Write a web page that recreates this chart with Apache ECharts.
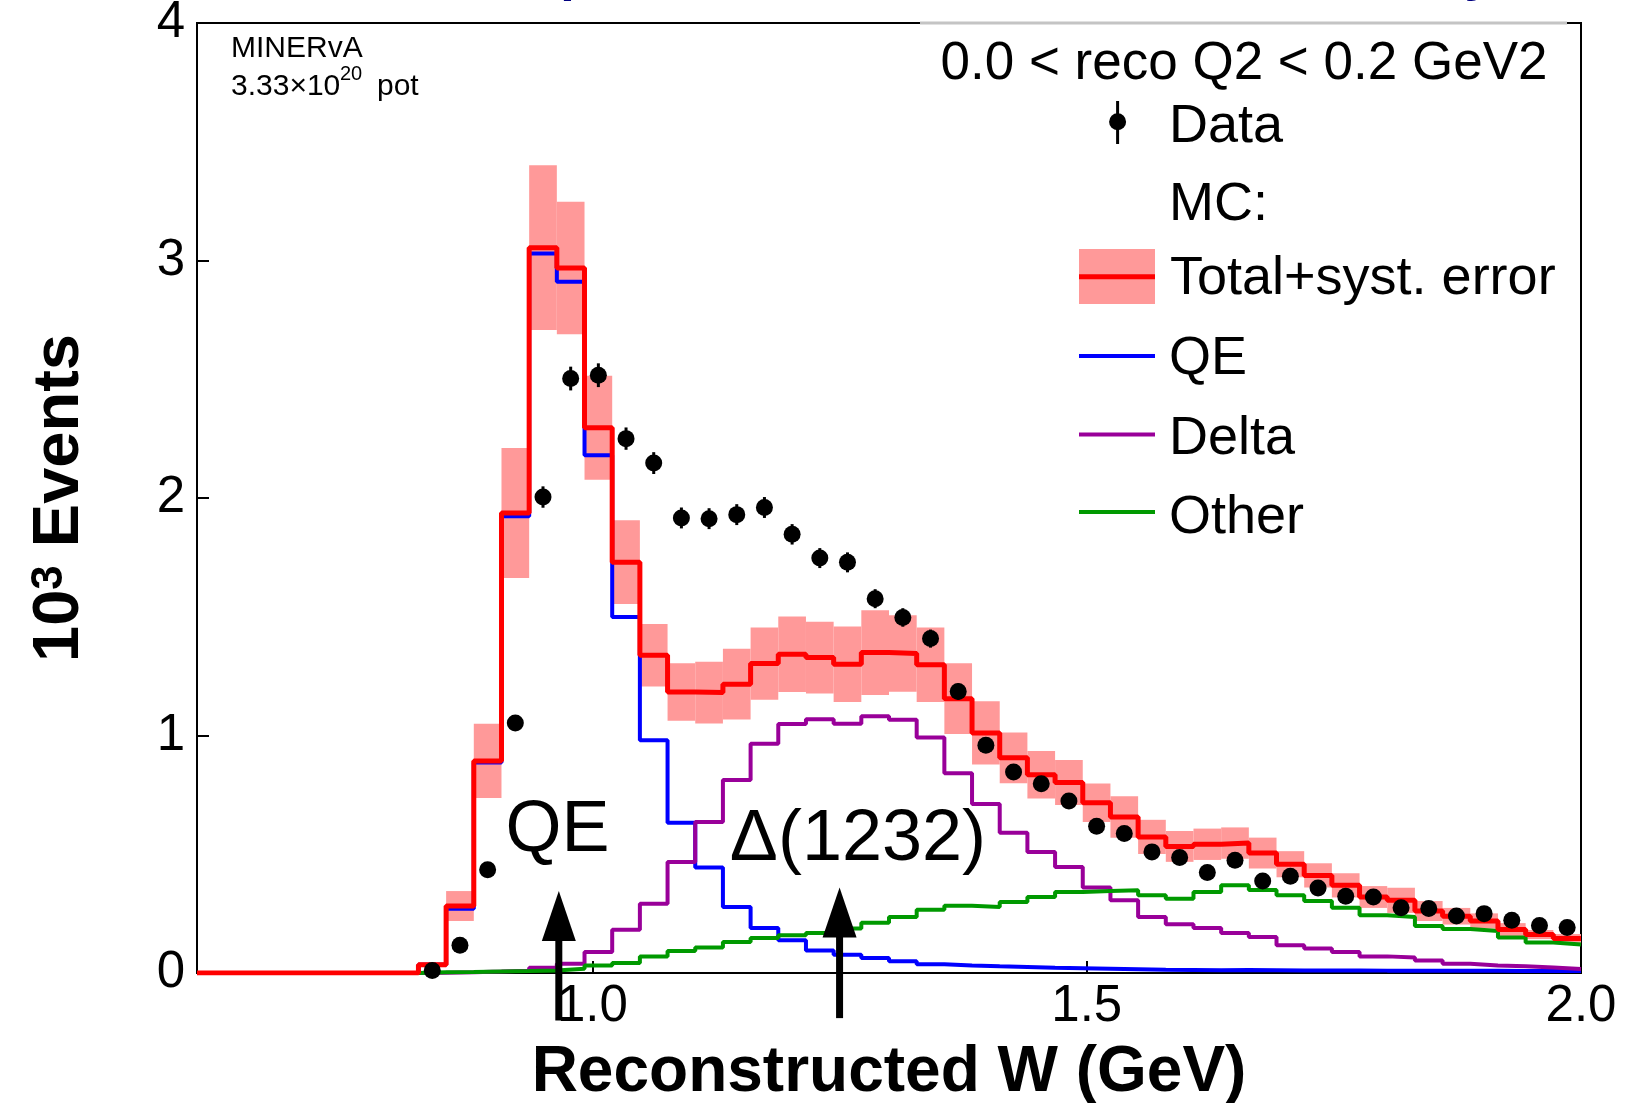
<!DOCTYPE html>
<html>
<head>
<meta charset="utf-8">
<title>Reconstructed W</title>
<script src="https://cdn.jsdelivr.net/npm/echarts@6/dist/echarts.min.js"></script>
<style>
html, body { margin: 0; padding: 0; background: #fff; }
#main { width: 1626px; height: 1103px; }
</style>
</head>
<body>
<div id="main"></div>
<script>
// binning: 50 bins of 0.028 GeV between 0.6 and 2.0
const wMin = 0.6, wMax = 2.0, binWidth = 0.028, nBins = 50;
const binLow = Array.from({ length: nBins }, (_, i) => +(wMin + i * binWidth).toFixed(3));
const binCenter = binLow.map(x => +(x + binWidth / 2).toFixed(3));
const xTickValues = [1.0, 1.5, 2.0];

// 10^3 events per bin
const dataVals = [null, null, null, null, null, null, null, null,
  0.011, 0.117, 0.435, 1.053, 2.004, 2.503, 2.517, 2.25, 2.147, 1.916, 1.913, 1.93,
  1.96, 1.847, 1.747, 1.729, 1.576, 1.497, 1.408, 1.185, 0.959, 0.846,
  0.797, 0.724, 0.618, 0.587, 0.51, 0.486, 0.423, 0.475, 0.387, 0.407,
  0.358, 0.323, 0.32, 0.275, 0.272, 0.24, 0.25, 0.222, 0.2, 0.192];
const dataErr = [null, null, null, null, null, null, null, null,
  0.004, 0.011, 0.021, 0.032, 0.045, 0.05, 0.05, 0.047, 0.046, 0.044, 0.044, 0.044,
  0.044, 0.043, 0.042, 0.042, 0.04, 0.039, 0.038, 0.034, 0.031, 0.029,
  0.028, 0.027, 0.025, 0.024, 0.023, 0.022, 0.021, 0.022, 0.02, 0.02,
  0.019, 0.018, 0.018, 0.017, 0.016, 0.015, 0.016, 0.015, 0.014, 0.014];
const totalMC = [0, 0, 0, 0, 0, 0, 0, 0,
  0.035, 0.282, 0.893, 1.937, 3.054, 2.968, 2.296, 1.73, 1.338, 1.183, 1.181, 1.216,
  1.303, 1.342, 1.328, 1.30, 1.349, 1.345, 1.298, 1.155, 1.011, 0.906,
  0.835, 0.802, 0.717, 0.657, 0.573, 0.533, 0.542, 0.547, 0.505, 0.458,
  0.411, 0.369, 0.32, 0.306, 0.261, 0.239, 0.219, 0.183, 0.162, 0.145];
const totalErr = [0, 0, 0, 0, 0, 0, 0, 0,
  0.01, 0.063, 0.156, 0.274, 0.347, 0.279, 0.219, 0.176, 0.132, 0.121, 0.13, 0.149,
  0.152, 0.159, 0.151, 0.159, 0.178, 0.161, 0.157, 0.149, 0.133, 0.107,
  0.10, 0.095, 0.081, 0.087, 0.072, 0.065, 0.066, 0.066, 0.065, 0.055,
  0.051, 0.051, 0.046, 0.053, 0.042, 0.035, 0.032, 0.027, 0.019, 0.019];
const qeMC = [0, 0, 0, 0, 0, 0, 0, 0,
  0.035, 0.271, 0.886, 1.923, 3.029, 2.911, 2.18, 1.499, 0.98, 0.633, 0.444, 0.278,
  0.189, 0.138, 0.095, 0.077, 0.063, 0.049, 0.037, 0.032, 0.028, 0.025,
  0.022, 0.02, 0.018, 0.016, 0.014, 0.013, 0.012, 0.013, 0.012, 0.011,
  0.011, 0.011, 0.01, 0.01, 0.01, 0.009, 0.009, 0.008, 0.008, 0.008];
const deltaMC = [0, 0, 0, 0, 0, 0, 0, 0,
  0.001, 0.003, 0.006, 0.01, 0.022, 0.039, 0.088, 0.182, 0.292, 0.467, 0.636, 0.813,
  0.965, 1.048, 1.068, 1.05, 1.081, 1.066, 0.992, 0.841, 0.712, 0.591,
  0.51, 0.446, 0.36, 0.306, 0.236, 0.205, 0.19, 0.168, 0.152, 0.117,
  0.103, 0.088, 0.07, 0.065, 0.053, 0.039, 0.032, 0.028, 0.023, 0.017];
const otherMC = [0, 0, 0, 0, 0, 0, 0, 0,
  0.003, 0.004, 0.006, 0.008, 0.011, 0.018, 0.032, 0.042, 0.07, 0.093, 0.107, 0.131,
  0.147, 0.159, 0.168, 0.187, 0.212, 0.236, 0.266, 0.283, 0.278, 0.299,
  0.32, 0.341, 0.345, 0.348, 0.327, 0.313, 0.341, 0.369, 0.35, 0.327,
  0.303, 0.275, 0.243, 0.236, 0.198, 0.185, 0.177, 0.149, 0.128, 0.12];

// arrows and labels marking the QE and Delta peaks (W in GeV, height in 10^3 events)
const arrows = [{ w: 0.966, from: -0.2, to: 0.345 }, { w: 1.25, from: -0.19, to: 0.36 }];
const peakLabels = [{ w: 0.912, y: 0.598, text: 'QE' }, { w: 1.139, y: 0.558, text: 'Δ(1232)' }];

const FONT = "'Liberation Sans', Arial, Helvetica, sans-serif";

// histogram outline: one point per low edge plus the last upper edge
function stepPoints(vals) {
  const pts = vals.map((v, i) => [binLow[i], v]);
  pts.push([wMax, vals[vals.length - 1]]);
  return pts;
}

function histLine(name, vals, color, width, z) {
  return {
    name: name, type: 'line', step: 'end', data: stepPoints(vals),
    symbol: 'none', z: z, silent: true,
    lineStyle: { color: color, width: width }
  };
}

const chart = echarts.init(document.getElementById('main'));

const option = {
  animation: false,
  grid: { left: 197, right: 45, top: 23, bottom: 130, outerBoundsMode: 'none', show: true, borderColor: '#000', borderWidth: 2 },
  xAxis: {
    type: 'value', min: wMin, max: wMax,
    name: 'Reconstructed W (GeV)', nameLocation: 'middle', nameGap: 68,
    nameTextStyle: { fontSize: 64, fontWeight: 'bold', color: '#000', fontFamily: FONT },
    axisLine: { lineStyle: { color: '#000', width: 2 } },
    axisTick: { inside: true, length: 12, customValues: xTickValues, lineStyle: { color: '#000', width: 2 } },
    axisLabel: { customValues: xTickValues, formatter: v => v.toFixed(1), fontSize: 51, margin: 8, color: '#000', fontFamily: FONT },
    splitLine: { show: false }
  },
  yAxis: {
    type: 'value', min: 0, max: 4, interval: 1,
    name: '{n|10}{s|3}{n| Events}', nameLocation: 'middle', nameRotate: 90, nameGap: 104,
    nameTextStyle: {
      color: '#000',
      rich: {
        n: { fontSize: 65, fontWeight: 'bold', fontFamily: FONT, color: '#000' },
        s: { fontSize: 44, fontWeight: 'bold', fontFamily: FONT, color: '#000', verticalAlign: 'top' }
      }
    },
    axisLine: { lineStyle: { color: '#000', width: 2 } },
    axisTick: { inside: true, length: 12, lineStyle: { color: '#000', width: 2 } },
    axisLabel: { fontSize: 51, margin: 12, color: '#000', fontFamily: FONT },
    splitLine: { show: false }
  },
  graphic: [
    // title, mostly above the page
    { type: 'text', x: 462, y: -24.5, z: 100, style: { text: 'W Spectrum and Reconstructed Q2 Study', font: 'bold 52px ' + FONT, fill: '#000080', verticalAlign: 'middle' } },
    // legend box covers the top frame with a light edge
    { type: 'line', z: 100, shape: { x1: 920, y1: 23, x2: 1567, y2: 23 }, style: { stroke: '#c4c4c4', lineWidth: 3 } },
    { type: 'text', x: 231, y: 49, z: 100, style: { text: 'MINERvA', font: '30px ' + FONT, fill: '#000', verticalAlign: 'middle' } },
    { type: 'text', x: 231, y: 87, z: 100, style: { text: '3.33×10', font: '30px ' + FONT, fill: '#000', verticalAlign: 'middle' } },
    { type: 'text', x: 340, y: 74, z: 100, style: { text: '20', font: '20px ' + FONT, fill: '#000', verticalAlign: 'middle' } },
    { type: 'text', x: 377, y: 87, z: 100, style: { text: 'pot', font: '30px ' + FONT, fill: '#000', verticalAlign: 'middle' } },
    { type: 'text', x: 1244, y: 64, z: 100, style: { text: '0.0 < reco Q2 < 0.2 GeV2', font: '53px ' + FONT, fill: '#000', align: 'center', verticalAlign: 'middle' } },
    { type: 'line', z: 100, shape: { x1: 1117.6, y1: 101, x2: 1117.6, y2: 144 }, style: { stroke: '#000', lineWidth: 3 } },
    { type: 'circle', z: 100, shape: { cx: 1117.6, cy: 121.7, r: 8.5 }, style: { fill: '#000' } },
    { type: 'text', x: 1169, y: 127, z: 100, style: { text: 'Data', font: '54px ' + FONT, fill: '#000', verticalAlign: 'middle' } },
    { type: 'text', x: 1169, y: 205, z: 100, style: { text: 'MC:', font: '54px ' + FONT, fill: '#000', verticalAlign: 'middle' } },
    { type: 'rect', z: 100, shape: { x: 1079, y: 249, width: 76, height: 55 }, style: { fill: '#ff9999' } },
    { type: 'line', z: 101, shape: { x1: 1079, y1: 276.7, x2: 1155, y2: 276.7 }, style: { stroke: '#ff0000', lineWidth: 5 } },
    { type: 'text', x: 1170, y: 279, z: 100, style: { text: 'Total+syst. error', font: '54px ' + FONT, fill: '#000', verticalAlign: 'middle' } },
    { type: 'line', z: 100, shape: { x1: 1079, y1: 356, x2: 1155, y2: 356 }, style: { stroke: '#0000ff', lineWidth: 4 } },
    { type: 'text', x: 1169, y: 359, z: 100, style: { text: 'QE', font: '54px ' + FONT, fill: '#000', verticalAlign: 'middle' } },
    { type: 'line', z: 100, shape: { x1: 1079, y1: 434.5, x2: 1155, y2: 434.5 }, style: { stroke: '#990099', lineWidth: 4 } },
    { type: 'text', x: 1169, y: 439, z: 100, style: { text: 'Delta', font: '54px ' + FONT, fill: '#000', verticalAlign: 'middle' } },
    { type: 'line', z: 100, shape: { x1: 1079, y1: 512, x2: 1155, y2: 512 }, style: { stroke: '#009900', lineWidth: 4 } },
    { type: 'text', x: 1169, y: 518, z: 100, style: { text: 'Other', font: '54px ' + FONT, fill: '#000', verticalAlign: 'middle' } }
  ],
  series: [
    {
      // systematic error band around the total
      name: 'Total+syst. error band', type: 'custom', z: 1, silent: true,
      data: totalMC.map((v, i) => [binLow[i], binLow[i] + binWidth, v - totalErr[i], v + totalErr[i]]),
      encode: { x: [0, 1], y: [2, 3] },
      renderItem: function (params, api) {
        if (api.value(3) - api.value(2) <= 0) return null;
        const p0 = api.coord([api.value(0), api.value(3)]);
        const p1 = api.coord([api.value(1), api.value(2)]);
        return { type: 'rect', shape: { x: p0[0], y: p0[1], width: p1[0] - p0[0], height: p1[1] - p0[1] }, style: { fill: '#ff9999' } };
      }
    },
    histLine('QE', qeMC, '#0000ff', 4, 2),
    histLine('Delta', deltaMC, '#990099', 4, 2),
    histLine('Other', otherMC, '#009900', 4, 2),
    histLine('Total', totalMC, '#ff0000', 5, 3),
    {
      name: 'Data error', type: 'custom', z: 4, silent: true,
      data: dataVals.map((v, i) => v === null ? null : [binCenter[i], v - dataErr[i], v + dataErr[i]]).filter(d => d),
      encode: { x: 0, y: [1, 2] },
      renderItem: function (params, api) {
        const a = api.coord([api.value(0), api.value(1)]);
        const b = api.coord([api.value(0), api.value(2)]);
        return { type: 'line', shape: { x1: a[0], y1: a[1], x2: b[0], y2: b[1] }, style: { stroke: '#000', lineWidth: 3 } };
      }
    },
    {
      name: 'Data', type: 'scatter', z: 5, silent: true,
      data: dataVals.map((v, i) => v === null ? null : [binCenter[i], v]).filter(d => d),
      symbol: 'circle', symbolSize: 17,
      itemStyle: { color: '#000', opacity: 1 }
    },
    {
      name: 'Peak arrows', type: 'custom', z: 6, silent: true, clip: false,
      data: arrows.map(a => [a.w, a.from, a.to]),
      renderItem: function (params, api) {
        const base = api.coord([api.value(0), api.value(1)]);
        const tip = api.coord([api.value(0), api.value(2)]);
        const headH = 50, headW = 34;
        return {
          type: 'group', children: [
            { type: 'line', shape: { x1: base[0], y1: base[1], x2: tip[0], y2: tip[1] + headH - 2 }, style: { stroke: '#000', lineWidth: 7 } },
            { type: 'polygon', shape: { points: [[tip[0], tip[1]], [tip[0] - headW / 2, tip[1] + headH], [tip[0] + headW / 2, tip[1] + headH]] }, style: { fill: '#000' } }
          ]
        };
      }
    },
    {
      name: 'Peak labels', type: 'custom', z: 6, silent: true, clip: false,
      data: peakLabels.map(p => [p.w, p.y]),
      renderItem: function (params, api) {
        const p = api.coord([api.value(0), api.value(1)]);
        return {
          type: 'text', x: p[0], y: p[1],
          style: { text: peakLabels[params.dataIndex].text, font: '72px ' + FONT, fill: '#000', verticalAlign: 'middle' }
        };
      }
    }
  ]
};

chart.setOption(option);
window.addEventListener('resize', chart.resize);
</script>
</body>
</html>
